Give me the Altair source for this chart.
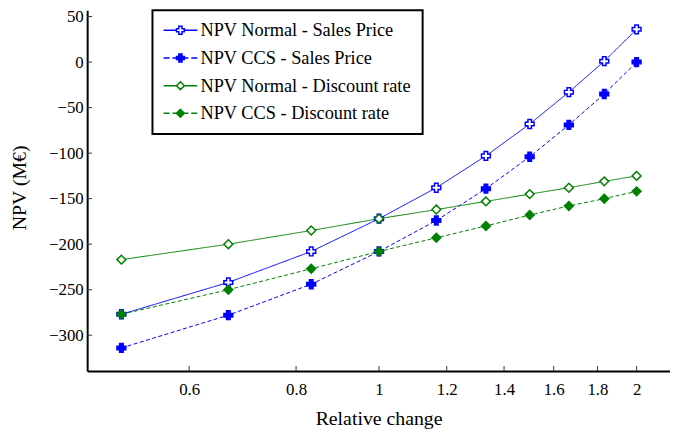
import altair as alt
import pandas as pd

# ---- data ----
rel_change = [0.5, 0.6667, 0.8333, 1.0, 1.1667, 1.3333, 1.5, 1.6667, 1.8333, 2.0]
npv_normal_sales = [-277, -242, -208, -172, -138, -103, -68, -33, 1, 36]
npv_ccs_sales = [-314, -278, -244, -208, -174, -139, -104, -69, -35, 0]
npv_normal_discount = [-217, -200, -185, -172, -162, -153, -145, -138, -131, -125]
npv_ccs_discount = [-277, -250, -227, -208, -193, -180, -168, -158, -150, -142]

series_names = [
    "NPV Normal - Sales Price",
    "NPV CCS - Sales Price",
    "NPV Normal - Discount rate",
    "NPV CCS - Discount rate",
]
x_ticks = [0.6, 0.8, 1.0, 1.2, 1.4, 1.6, 1.8, 2.0]
y_ticks = [50, 0, -50, -100, -150, -200, -250, -300]

# ---- styles ----
stroke_colors = ["#0000ff", "#0000ff", "#008000", "#008000"]
fill_colors = ["#ffffff", "#0000ff", "#ffffff", "#008000"]
dashes = [[1, 0], [4, 2.5], [1, 0], [4, 2.5]]
shapes = ["cross", "cross", "diamond", "diamond"]

CROSS = "M-1,-0.4H-0.4V-1H0.4V-0.4H1V0.4H0.4V1H-0.4V0.4H-1Z"
DIAM = "M0,-1L1,0L0,1L-1,0Z"
SOLID = "M-4.25,0H-1M1,0H4.25"
DASHED = "M-4.25,0H-2.75M-2,0H-1M1,0H2M2.75,0H4.25"
legend_paths = [SOLID + CROSS, DASHED + CROSS, SOLID + DIAM, DASHED + DIAM]

all_series = [npv_normal_sales, npv_ccs_sales, npv_normal_discount, npv_ccs_discount]
rows = []
for name, vals in zip(series_names, all_series):
    for xv, yv in zip(rel_change, vals):
        rows.append({"x": xv, "npv": yv, "series": name})
df = pd.DataFrame(rows)

W, H = 589, 364.5
FONT = "Liberation Serif, Times New Roman, DejaVu Serif, serif"

xscale = alt.Scale(type="log", domain=[0.456, 2.188], nice=False)
yscale = alt.Scale(domain=[-339.2, 57], nice=False, zero=False)

xaxis = alt.Axis(values=x_ticks, format="~g", title="Relative change",
                 titleX=W / 2, titleY=54.5, titleBaseline="alphabetic",
                 labelPadding=11, labelOverlap=False)
yaxis = alt.Axis(values=y_ticks, title="NPV (M€)", titleX=-62, titleY=179,
                 titleBaseline="alphabetic", titleAngle=270, labelPadding=4,
                 labelOverlap=False)

base = alt.Chart(df)

lines = base.mark_line(strokeWidth=1).encode(
    x=alt.X("x:Q", scale=xscale, axis=xaxis),
    y=alt.Y("npv:Q", scale=yscale, axis=yaxis),
    stroke=alt.Stroke("series:N", scale=alt.Scale(domain=series_names, range=stroke_colors), legend=None),
    strokeDash=alt.StrokeDash("series:N", scale=alt.Scale(domain=series_names, range=dashes), legend=None),
    order="x:Q",
)

points = base.mark_point(size=80, strokeWidth=1.5, opacity=1).encode(
    x=alt.X("x:Q", scale=xscale, axis=xaxis),
    y=alt.Y("npv:Q", scale=yscale, axis=yaxis),
    stroke=alt.Stroke("series:N", scale=alt.Scale(domain=series_names, range=stroke_colors), legend=None),
    fill=alt.Fill("series:N", scale=alt.Scale(domain=series_names, range=fill_colors), legend=None),
    shape=alt.Shape("series:N", scale=alt.Scale(domain=series_names, range=shapes), legend=None),
)

leg = dict(
    title=None, orient="none", legendX=66, legendY=0, padding=11,
    strokeColor="black", fillColor="white", cornerRadius=0,
    labelFont=FONT, labelFontSize=18.5, labelColor="black", labelLimit=500,
    rowPadding=9, symbolOffset=8, labelOffset=11, symbolSize=64,
    symbolStrokeWidth=1.5,
)

legend_layer = (
    base.transform_calculate(key="datum.series")
    .transform_filter("false")
    .mark_point(size=64, strokeWidth=1.5, opacity=1)
    .encode(
        shape=alt.Shape("key:N", scale=alt.Scale(domain=series_names, range=legend_paths), legend=alt.Legend(**leg)),
        fill=alt.Fill("key:N", scale=alt.Scale(domain=series_names, range=fill_colors), legend=alt.Legend(**leg)),
        stroke=alt.Stroke("key:N", scale=alt.Scale(domain=series_names, range=stroke_colors), legend=alt.Legend(**leg)),
    )
)

xt = alt.Chart(pd.DataFrame({"x": x_ticks})).mark_rule(color="#333333", strokeWidth=1).encode(
    x=alt.X("x:Q", scale=xscale, axis=xaxis),
    y=alt.value(H),
    y2=alt.value(H - 5),
)
yt = alt.Chart(pd.DataFrame({"npv": y_ticks})).mark_rule(color="#333333", strokeWidth=1).encode(
    y=alt.Y("npv:Q", scale=yscale, axis=yaxis),
    x=alt.value(0),
    x2=alt.value(5),
)

chart = (
    alt.layer(xt, yt, lines, points, legend_layer)
    .resolve_scale(fill="independent", stroke="independent", shape="independent", strokeDash="independent")
    .properties(
        width=W, height=H,
        autosize=alt.AutoSizeParams(type="none"),
        padding={"left": 80, "top": 0, "right": 0, "bottom": 57.5},
    )
    .configure_view(stroke=None)
    .configure_legend(strokeWidth=2)
    .configure_axis(
        grid=False, ticks=False, tickSize=0,
        domainColor="black", domainWidth=2,
        labelFont=FONT, labelFontSize=17, labelColor="black",
        titleFont=FONT, titleFontSize=20, titleFontWeight="normal", titleColor="black",
    )
)

chart.save("out.html", embed_options={"renderer": "svg", "actions": False})
